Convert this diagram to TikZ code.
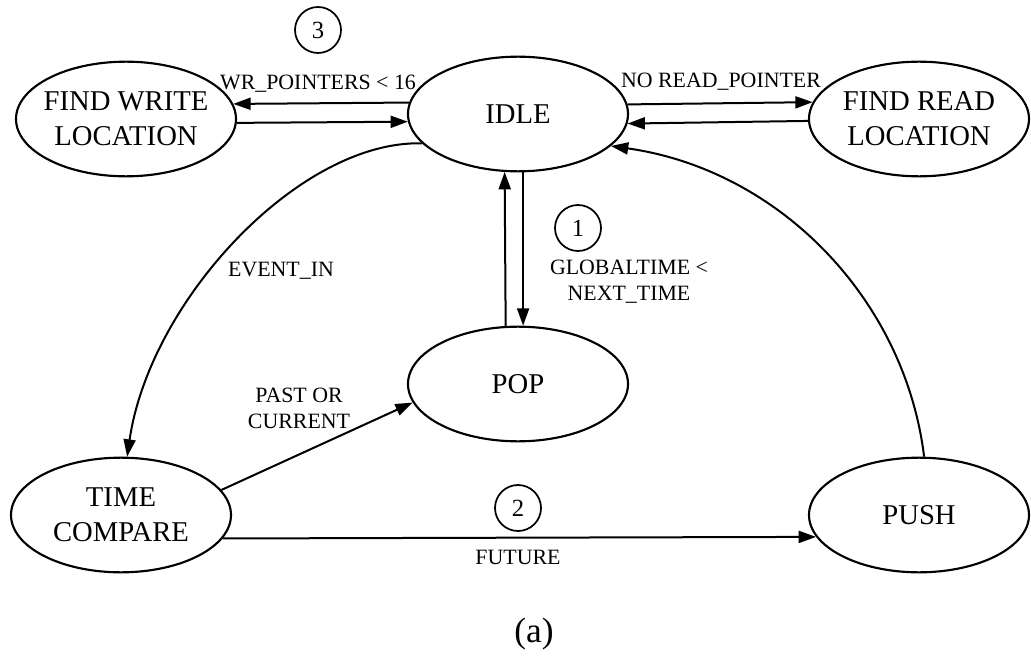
\documentclass[tikz,border=0pt]{standalone}
\usepackage{fontspec}
\setmainfont{Liberation Serif}
\usetikzlibrary{arrows.meta,shapes.geometric,calc}
\begin{document}
\begin{tikzpicture}[x=0.75pt,y=-0.75pt,
  state/.style={ellipse,draw,line width=1.6pt,minimum width=165pt,minimum height=86pt,inner sep=0pt},
  stxt/.style={font=\fontsize{21.5}{26}\selectfont,align=center,inner sep=0pt},
  lbl/.style={font=\fontsize{16.4}{19.5}\selectfont,align=center,inner sep=0pt},
  num/.style={circle,draw,line width=1.3pt,minimum size=34.5pt,inner sep=0pt,font=\fontsize{18.5}{22}\selectfont},
  arr/.style={line width=1.5pt,-{Triangle[length=13pt,width=9pt]}}]
\useasboundingbox (0,0) rectangle (1031,656);

% states
\node[state] (fw) at (126,119) {};
\node[stxt] (fwT) at (fw.center) {FIND WRITE\\LOCATION};
\node[state] (idle) at (518,114) {};
\node[stxt] (idleT) at (idle.center) {IDLE};
\node[state] (fr) at (919,119) {};
\node[stxt] (frT) at (fr.center) {FIND READ\\LOCATION};
\node[state] (pop) at (518,384) {};
\node[stxt] (popT) at (pop.center) {POP};
\node[state] (tc) at (121,515) {};
\node[stxt] (tcT) at (tc.center) {TIME\\COMPARE};
\node[state] (push) at (919,515) {};
\node[stxt] (pushT) at (push.center) {PUSH};

% numbered circles
\node[num] (n3) at (318,30) {3};
\node[num] (n1) at (578,228) {1};
\node[num] (n2) at (518,508) {2};

% connectors
\draw[arr] (idle.174.2) -- (fw.8.6);
\draw[arr] (fw.358.4) -- (idle.184.2);
\draw[arr] (idle.5.8) -- (fr.171.4);
\draw[arr] (fr.181.6) -- (idle.355.8);
\draw[arr] (pop.102.8) -- (idle.257.2);
\draw[arr] (idle.275) -- (pop.85);
\draw[arr] (idle.197.5) .. controls (300,140) and (150,300) .. (tc.84);
\draw[arr] (tc.14) -- (pop.190);
\draw[arr] (tc.347.1) -- (push.192.9);
\draw[arr] (push.85) .. controls (905,300) and (780,170) .. (idle.341);

% labels
\node[lbl] (lwr) at (318,84) {WR\_POINTERS < 16};
\node[lbl] (lnr) at (721,82) {NO READ\_POINTER};
\node[lbl] (lgt) at (629,282) {GLOBALTIME <\\NEXT\_TIME};
\node[lbl] (lev) at (281,271) {EVENT\_IN};
\node[lbl] (lpc) at (299,408) {PAST OR\\CURRENT};
\node[lbl] (lfu) at (518,557) {FUTURE};
\node[font=\fontsize{26.5}{30}\selectfont,inner sep=0pt] (cap) at (534,634) {(a)};
\end{tikzpicture}
\end{document}
